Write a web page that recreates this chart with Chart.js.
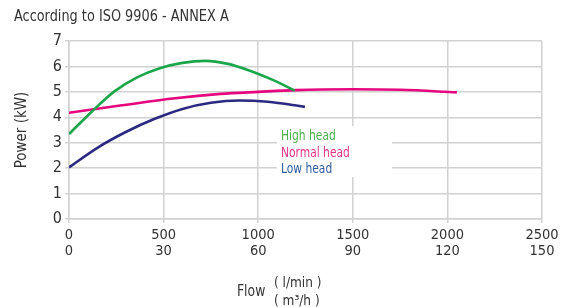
<!DOCTYPE html>
<html>
<head>
<meta charset="utf-8">
<script src="https://cdn.jsdelivr.net/npm/chart.js@4"></script>
<style>
  html, body { margin: 0; padding: 0; background: #fff; }
  #wrap { position: relative; width: 565px; height: 307px; }
</style>
</head>
<body>
<div id="wrap"><canvas id="myChartPump"></canvas></div>
<script>
// Datos
const titulo = "According to ISO 9906 - ANNEX A"
const flujoTicks = [0, 500, 1000, 1500, 2000, 2500]   // l/min
const flujoTicksM3 = [0, 30, 60, 90, 120, 150]        // m3/h

const highFlow = [0, 120, 240, 360, 480, 600, 720, 840, 960, 1080, 1194]
const highPower = [3.34, 4.22, 5.02, 5.57, 5.93, 6.14, 6.22, 6.1, 5.82, 5.46, 5.05]

const normalFlow = [0, 280, 560, 800, 1000, 1200, 1500, 1750, 2050]
const normalPower = [4.18, 4.47, 4.75, 4.92, 5.0, 5.07, 5.1, 5.08, 4.98]

const lowFlow = [0, 150, 300, 450, 600, 750, 900, 1050, 1247]
const lowPower = [2.03, 2.8, 3.42, 3.93, 4.33, 4.57, 4.66, 4.61, 4.41]

const series = [
    { label: "High head", flow: highFlow, power: highPower, color: "#1ca64a", text: "#4caf50" },
    { label: "Normal head", flow: normalFlow, power: normalPower, color: "#e6077e", text: "#e8358c" },
    { label: "Low head", flow: lowFlow, power: lowPower, color: "#2c2a80", text: "#2d5ca0" }
]

const fuente = "'Liberation Sans Narrow', 'DejaVu Sans Condensed', 'Roboto', sans-serif"
const grisTexto = "#333"
const grisGrid = "#d2d2d2"

const toPoints = (flow, power) => flow.map((f, i) => ({ x: f, y: power[i] }))

// texto angosto (escala horizontal)
const textoAngosto = (ctx, txt, x, y, size, sx) => {
    ctx.save()
    ctx.font = size + "px " + fuente
    ctx.translate(x, y)
    ctx.scale(sx, 1)
    ctx.fillText(txt, 0, 0)
    ctx.restore()
}

// Plugin para titulo, leyenda y etiqueta de flujo
const textosPlugin = {
    id: "textos",
    beforeDatasetsDraw(chart) {
        const ctx = chart.ctx
        ctx.save()
        ctx.fillStyle = "#fff"
        ctx.fillRect(277, 126, 115, 51)
        ctx.textAlign = "left"
        ctx.textBaseline = "alphabetic"
        chart.data.datasets.forEach((ds, i) => {
            ctx.fillStyle = series[i].text
            textoAngosto(ctx, ds.label, 281, 140 + i * 16.7, 14, 0.85)
        })
        ctx.restore()
    },
    afterDraw(chart) {
        const ctx = chart.ctx
        ctx.save()
        ctx.fillStyle = grisTexto
        ctx.textAlign = "left"
        ctx.textBaseline = "alphabetic"
        textoAngosto(ctx, titulo, 14, 21, 15, 0.955)
        textoAngosto(ctx, "Flow", 237, 296, 16, 0.86)
        textoAngosto(ctx, "( l/min )", 274, 287, 14.5, 0.93)
        textoAngosto(ctx, "( m³/h )", 274, 305, 14.5, 0.93)
        ctx.restore()
    }
}

const chart_Pump = document.getElementById("myChartPump")
const myChart = new Chart(chart_Pump, {
    type: "line",
    data: {
        datasets: series.map(s => ({
            label: s.label,
            data: toPoints(s.flow, s.power),
            borderColor: s.color,
            backgroundColor: s.color,
            borderWidth: 2.6,
            pointRadius: 0,
            cubicInterpolationMode: "monotone",
            fill: false
        }))
    },
    options: {
        responsive: true,
        maintainAspectRatio: false,
        animation: false,
        layout: { padding: { top: 41, right: 23, bottom: 0, left: 0 } },
        plugins: {
            legend: { display: false },
            tooltip: { enabled: false }
        },
        scales: {
            x: {
                type: "linear",
                min: 0,
                max: 2500,
                afterBuildTicks: (scale) => { scale.ticks = flujoTicks.map(v => ({ value: v })) },
                afterFit: (scale) => { scale.height = 88 },
                ticks: {
                    color: grisTexto,
                    font: { family: fuente, size: 14.5, lineHeight: 1.05 },
                    padding: 5,
                    maxRotation: 0,
                    callback: (value, index) => [String(flujoTicks[index]), String(flujoTicksM3[index])]
                },
                grid: { color: grisGrid, lineWidth: 1.5, tickLength: 4 },
                border: { color: grisGrid, width: 1.5 }
            },
            y: {
                min: 0,
                max: 7,
                ticks: {
                    stepSize: 1,
                    color: grisTexto,
                    font: { family: fuente, size: 16 },
                    padding: 3
                },
                afterFit: (scale) => { scale.width = 69 },
                title: {
                    display: true,
                    text: "Power (kW)",
                    color: grisTexto,
                    font: { family: fuente, size: 15 },
                    padding: { top: 13, bottom: 0 }
                },
                grid: { color: grisGrid, lineWidth: 1.5, tickLength: 4 },
                border: { color: grisGrid, width: 1.5 }
            }
        }
    },
    plugins: [textosPlugin]
})
</script>
</body>
</html>
